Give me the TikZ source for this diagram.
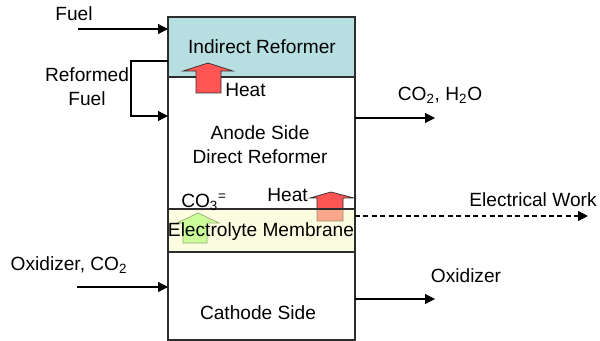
\documentclass[tikz,border=0pt]{standalone}
\usepackage{fontspec}
\setmainfont{Liberation Sans}
\usetikzlibrary{arrows.meta}
\definecolor{reformerteal}{RGB}{183,223,225}
\definecolor{membraneyellow}{RGB}{250,250,196}
\definecolor{heatred}{RGB}{255,85,85}
\definecolor{iongreen}{RGB}{204,255,153}
\definecolor{iongreenedge}{RGB}{150,170,120}
\definecolor{celledge}{RGB}{45,45,45}

\begin{document}
\begin{tikzpicture}[x=0.025cm,y=-0.025cm,
  lbl/.style={font=\fontsize{13.6}{17}\selectfont,inner sep=0pt,align=center},
  flow/.style={-{Triangle[length=7pt,width=7pt]},line width=0.8pt,color=black},
  cellline/.style={line width=0.9pt,color=celledge},
  heatarrow/.style={fill=heatred,draw=celledge,line width=0.5pt}]
\useasboundingbox (0,0) rectangle (600,341);
% cell corners
\coordinate (cellNW) at (168,17);
\coordinate (cellSE) at (355,340);
% indirect reformer band
\fill[reformerteal] (cellNW) rectangle (355,77);
% heat from the cell into the membrane side
\filldraw[heatarrow] (317,221) -- (317,198) -- (310,198) -- (331,192)
  -- (354,198) -- (343,198) -- (343,221) -- cycle;
% electrolyte membrane
\fill[membraneyellow,fill opacity=0.5] (168,209) rectangle (355,252);
\filldraw[fill=iongreen,draw=iongreenedge,line width=0.5pt]
  (183,243) -- (183,223) -- (177,223) -- (198,213) -- (219,223)
  -- (207,223) -- (207,243) -- cycle;
% cell outline and partitions
\draw[cellline] (cellNW) rectangle (cellSE);
\draw[cellline,line width=1.6pt] (168,77) -- (355,77);
\draw[cellline] (168,209) -- (355,209);
\draw[cellline] (168,252) -- (355,252);
% heat into the indirect reformer
\filldraw[heatarrow] (196,93) -- (196,71) -- (183,71) -- (208,63)
  -- (233,71) -- (221,71) -- (221,93) -- cycle;

% texts in the cell
\node[lbl] (reformer) at (262,47) {Indirect Reformer};
\node[lbl,anchor=west] (heattop) at (225,90) {Heat};
\node[lbl] (anode) at (260,145) {Anode Side\\Direct Reformer};
\node[lbl,anchor=west] (carbonate) at (181,202) {CO\textsubscript{3}\textsuperscript{=}};
\node[lbl,anchor=east] (heatlow) at (308,195) {Heat};
\node[lbl] (membrane) at (261,232) {Electrolyte Membrane};
\node[lbl] (cathode) at (258,313) {Cathode Side};

% streams
\node[lbl] (fuel) at (74,14) {Fuel};
\node[lbl] (reformed) at (87,87) {Reformed\\Fuel};
\node[lbl] (oxin) at (69,265) {Oxidizer, CO\textsubscript{2}};
\node[lbl] (exhaust) at (440,95) {CO\textsubscript{2}, H\textsubscript{2}O};
\node[lbl] (work) at (533,200) {Electrical Work};
\node[lbl] (oxout) at (466,276) {Oxidizer};

\coordinate (fuelin) at (78,29);
\coordinate (reformedout) at (131,61);
\coordinate (reformedin) at (131,116);
\coordinate (oxinstart) at (77,287);
\coordinate (exhaustend) at (435,118);
\coordinate (workend) at (588,216);
\coordinate (oxoutend) at (435,299);

\draw[flow] (fuelin) -- (fuelin -| cellNW);
\draw[flow] (reformedout -| cellNW) -- (reformedout) -- (reformedin)
  -- (reformedin -| cellNW);
\draw[flow] (oxinstart) -- (oxinstart -| cellNW);
\draw[flow] (exhaustend -| cellSE) -- (exhaustend);
\draw[flow,dashed,dash pattern=on 3.5pt off 2.5pt] (workend -| cellSE) -- (workend);
\draw[flow] (oxoutend -| cellSE) -- (oxoutend);
\end{tikzpicture}
\end{document}
